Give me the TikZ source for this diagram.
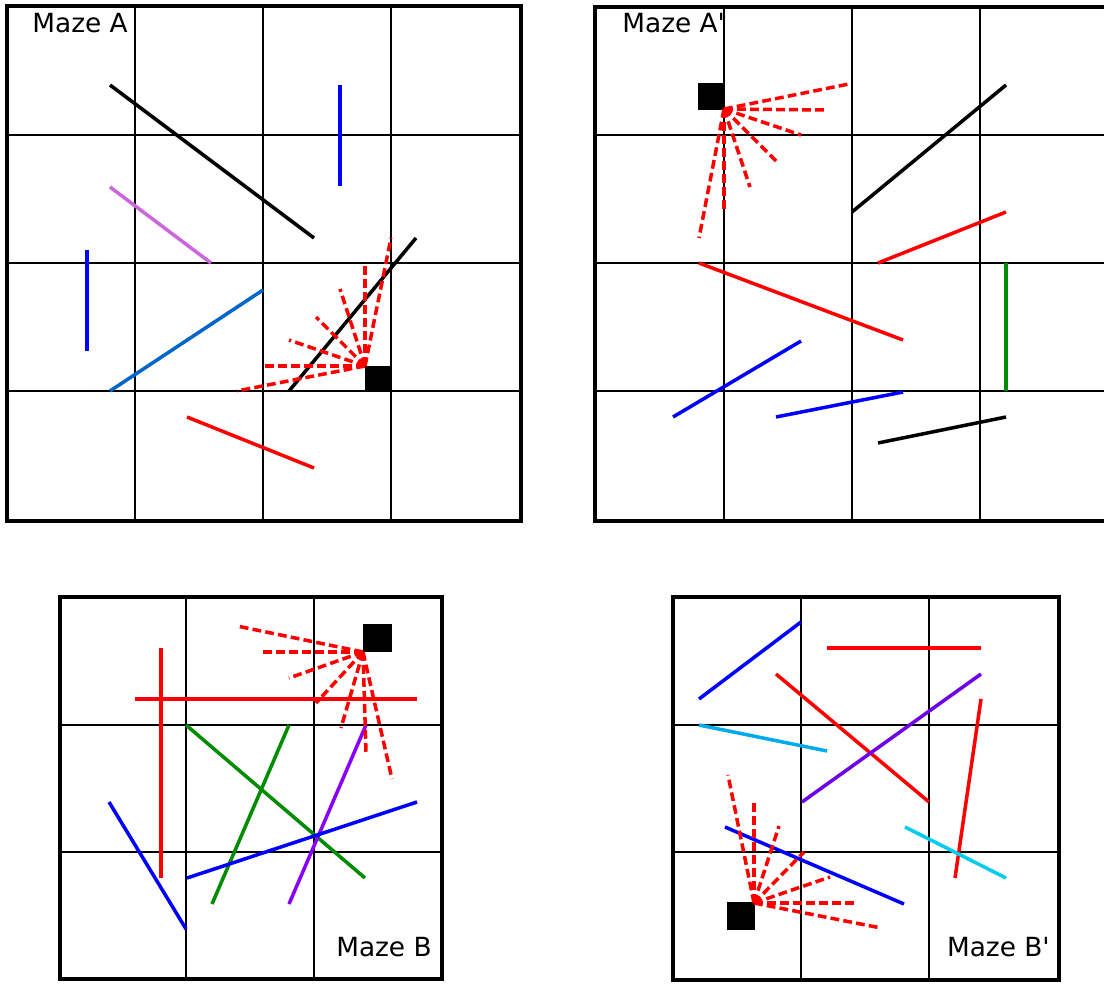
\documentclass[tikz,border=0pt]{standalone}
\usepackage{fontspec}
\setmainfont{DejaVu Sans}
\usetikzlibrary{positioning}

\definecolor{orchidline}{RGB}{204,102,221}
\definecolor{steelline}{RGB}{0,102,204}
\definecolor{greenline}{RGB}{0,140,0}
\definecolor{violetline}{RGB}{136,0,250}
\definecolor{indigoline}{RGB}{110,0,230}
\definecolor{skyline}{RGB}{0,170,238}
\definecolor{cyanline}{RGB}{0,204,238}

\begin{document}
\begin{tikzpicture}[x=0.02cm,y=-0.02cm,
    frame/.style={line width=2.2pt},
    cellline/.style={line width=0.9pt},
    wall/.style={line width=2pt},
    ray/.style={red, line width=2pt, dash pattern=on 5pt off 2.4pt},
    agent/.style={fill=black},
    mazelabel/.style={font=\fontsize{15}{18}\selectfont, inner sep=0pt}]
    \useasboundingbox (0,0) rectangle (1104,983);
    \clip (0,0) rectangle (1104,983);

    % Maze A
    \foreach \g in {135,263,391} {
        \draw[cellline] (\g,6) -- (\g,521);
        \draw[cellline] (7,\g) -- (521,\g);
    }
    \draw[frame] (7,6) rectangle (521,521);
    \node[mazelabel, anchor=base west] (labelA) at (32,33) {Maze A};
    \draw[wall, black] (110,85) -- (314,238);
    \draw[wall, blue] (340,85) -- (340,186);
    \draw[wall, orchidline] (110,187) -- (211,263);
    \draw[wall, blue] (87,250) -- (87,351);
    \draw[wall, steelline] (110,391) -- (263,290);
    \draw[wall, black] (289,391) -- (416,238);
    \draw[wall, red] (187,417) -- (314,468);
    \fill[agent] (365,366) rectangle (391,391);
    \coordinate (eyeA) at (365,366);
    \foreach \p in {(391,238),(365,263),(340,289),(316,317),(289,340),(263,366),(237,391)}
        \draw[ray] (eyeA) -- \p;

    % Maze A'
    \foreach \g in {724,852,980}
        \draw[cellline] (\g,7) -- (\g,521);
    \foreach \g in {135,263,391}
        \draw[cellline] (595,\g) -- (1109,\g);
    \draw[frame] (595,7) rectangle (1109,521);
    \node[mazelabel, anchor=base west] (labelAp) at (622,33) {Maze A\textquotesingle};
    \draw[wall, black] (852,212) -- (1006,85);
    \draw[wall, red] (878,263) -- (1006,212);
    \draw[wall, red] (699,263) -- (903,340);
    \draw[wall, greenline] (1006,263) -- (1006,391);
    \draw[wall, blue] (673,417) -- (801,341);
    \draw[wall, blue] (776,417) -- (903,392);
    \draw[wall, black] (878,443) -- (1006,417);
    \fill[agent] (698,83) rectangle (725,110);
    \coordinate (eyeAp) at (724,109);
    \foreach \p in {(849,84),(827,110),(801,135),(776,161),(750,187),(724,212),(699,238)}
        \draw[ray] (eyeAp) -- \p;

    % Maze B
    \foreach \g in {186,314}
        \draw[cellline] (\g,597) -- (\g,979);
    \foreach \g in {725,852}
        \draw[cellline] (60,\g) -- (442,\g);
    \draw[frame] (60,597) rectangle (442,979);
    \node[mazelabel, anchor=base east] (labelB) at (432,956) {Maze B};
    \draw[wall, red] (135,699) -- (417,699);
    \draw[wall, red] (161,648) -- (161,878);
    \draw[wall, greenline] (186,725) -- (365,878);
    \draw[wall, greenline] (289,725) -- (212,904);
    \draw[wall, violetline] (366,725) -- (289,904);
    \draw[wall, blue] (109,802) -- (186,929);
    \draw[wall, blue] (187,878) -- (417,802);
    \fill[agent] (363,624) rectangle (392,652);
    \coordinate (eyeB) at (363,652);
    \foreach \p in {(237,626),(263,652),(289,678),(316,703),(341,728),(366,753),(392,779)}
        \draw[ray] (eyeB) -- \p;

    % Maze B'
    \foreach \g in {801,929}
        \draw[cellline] (\g,597) -- (\g,980);
    \foreach \g in {725,852}
        \draw[cellline] (673,\g) -- (1059,\g);
    \draw[frame] (673,597) rectangle (1059,980);
    \node[mazelabel, anchor=base east] (labelBp) at (1050,956) {Maze B\textquotesingle};
    \draw[wall, blue] (699,699) -- (801,622);
    \draw[wall, red] (827,648) -- (981,648);
    \draw[wall, red] (776,674) -- (929,802);
    \draw[wall, indigoline] (981,674) -- (802,802);
    \draw[wall, red] (981,699) -- (955,878);
    \draw[wall, skyline] (699,725) -- (827,751);
    \draw[wall, cyanline] (905,827) -- (1006,878);
    \draw[wall, blue] (725,827) -- (904,904);
    \fill[agent] (727,902) rectangle (755,930);
    \coordinate (eyeBp) at (754,903);
    \foreach \p in {(728,775),(754,801),(779,826),(804,852),(830,877),(855,903),(881,928)}
        \draw[ray] (eyeBp) -- \p;
\end{tikzpicture}
\end{document}
